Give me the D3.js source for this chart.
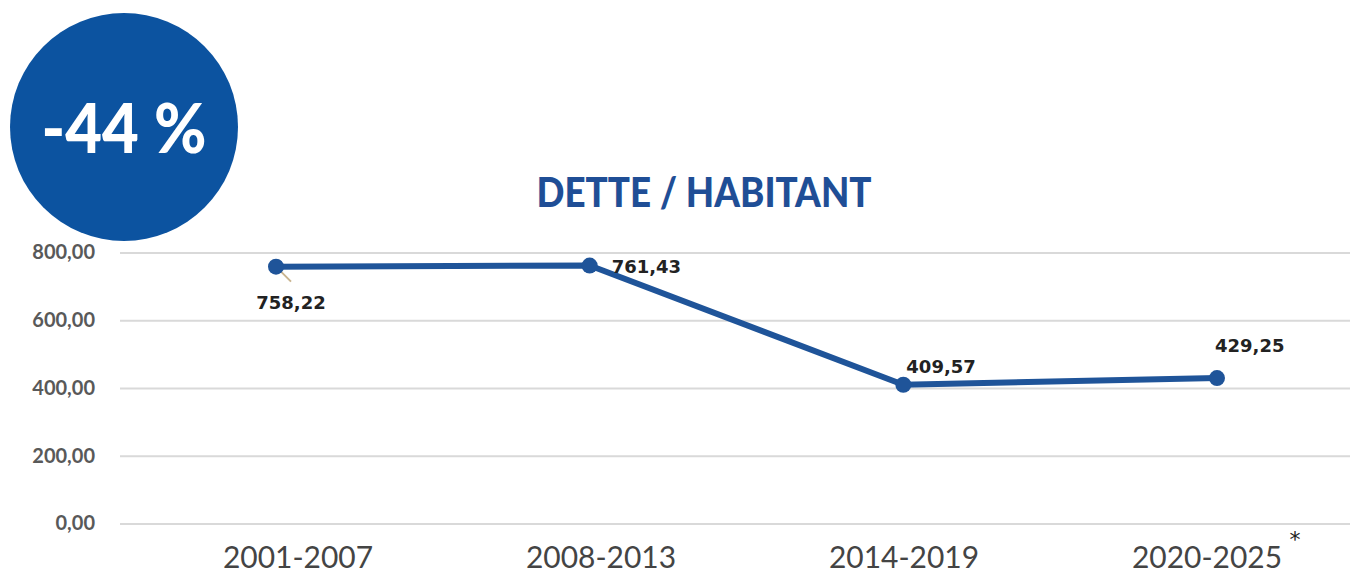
<!DOCTYPE html>
<html>
<head>
<meta charset="utf-8">
<script src="https://cdn.jsdelivr.net/npm/d3@7"></script>
<style>
  body { margin: 0; background: #fff; }
  svg { display: block; }
</style>
</head>
<body>
<script>
//chart data
var periods = ["2001-2007", "2008-2013", "2014-2019", "2020-2025"];
var dettes = [758.22, 761.43, 409.57, 429.25];
var yTicks = [0, 200, 400, 600, 800];
var title = "DETTE / HABITANT";
var badge = "-44 %";

//size of the page
var width = 1354, height = 576;
var blue = "#1f5499";

//french number format
var fr = d3.formatLocale({decimal: ",", thousands: " ", grouping: [3], currency: ["", " €"]});
var fmt = fr.format(".2f");

//scales
var x = d3.scalePoint().domain(periods).range([276, 1217]);
var xLab = d3.scalePoint().domain(periods).range([298, 1207]);
var y = d3.scaleLinear().domain([0, 800]).range([523.5, 252.5]);

var svg = d3.select("body").append("svg")
    .attr("width", width)
    .attr("height", height);

//gridlines + y labels
svg.append("g")
    .attr("transform", "translate(1350,0)")
    .call(d3.axisLeft(y).tickValues(yTicks).tickSize(1230).tickPadding(25).tickFormat(fmt))
    .call(g => g.select(".domain").remove())
    .call(g => g.selectAll("line").attr("stroke", "#d9d9d9").attr("stroke-width", 2))
    .call(g => g.selectAll("text")
        .attr("fill", "#595959")
        .style("font", "bold 20px Lato, sans-serif"));

//x labels
svg.append("g")
    .selectAll("text")
    .data(periods)
    .enter().append("text")
    .attr("x", d => xLab(d))
    .attr("y", 568)
    .attr("text-anchor", "middle")
    .attr("fill", "#444")
    .attr("textLength", 150)
    .attr("lengthAdjust", "spacingAndGlyphs")
    .style("font", "30px Lato, sans-serif")
    .text(d => d);

//asterisk on the last period
svg.append("text")
    .attr("x", xLab(periods[3]) + 88)
    .attr("y", 547)
    .attr("text-anchor", "middle")
    .attr("fill", "#222")
    .style("font", "22px 'DejaVu Sans', sans-serif")
    .text("*");

//title
svg.append("text")
    .attr("x", 704)
    .attr("y", 207)
    .attr("text-anchor", "middle")
    .attr("fill", "#1f4e96")
    .attr("textLength", 335)
    .attr("lengthAdjust", "spacingAndGlyphs")
    .style("font", "900 41px Lato, sans-serif")
    .text(title);

//line
var line = d3.line()
    .x((d, i) => x(periods[i]))
    .y(d => y(d));

svg.append("path")
    .datum(dettes)
    .attr("d", line)
    .attr("fill", "none")
    .attr("stroke", blue)
    .attr("stroke-width", 6)
    .attr("stroke-linejoin", "round");

//small leader line for first label
svg.append("line")
    .attr("x1", x(periods[0]) + 5)
    .attr("y1", y(dettes[0]) + 5)
    .attr("x2", x(periods[0]) + 15)
    .attr("y2", y(dettes[0]) + 15)
    .attr("stroke", "#c9b48f")
    .attr("stroke-width", 2);

//points
svg.selectAll("circle.pt")
    .data(dettes)
    .enter().append("circle")
    .attr("class", "pt")
    .attr("cx", (d, i) => x(periods[i]))
    .attr("cy", d => y(d))
    .attr("r", 8)
    .attr("fill", blue);

//value labels
svg.selectAll("text.val")
    .data(dettes)
    .enter().append("text")
    .attr("class", "val")
    .attr("x", (d, i) => x(periods[i]) + label_offset(i)[0])
    .attr("y", d => y(d))
    .attr("dy", (d, i) => label_offset(i)[1])
    .attr("text-anchor", (d, i) => i === 0 ? "middle" : "start")
    .attr("fill", "#222")
    .style("font", "bold 18px 'DejaVu Sans', sans-serif")
    .text(d => fmt(d));

//badge circle
svg.append("circle")
    .attr("cx", 124)
    .attr("cy", 127)
    .attr("r", 114)
    .attr("fill", "#0c53a0");

svg.append("text")
    .attr("x", 124)
    .attr("y", 153)
    .attr("text-anchor", "middle")
    .attr("fill", "#fff")
    .attr("textLength", 165)
    .attr("lengthAdjust", "spacingAndGlyphs")
    .style("font", "900 68px Lato, sans-serif")
    .text(badge);

//where each value label sits relative to its point
function label_offset(i) {
    if (i === 0) {
        return [15, 42];
    }
    else if (i === 1) {
        return [22, 7];
    }
    else if (i === 2) {
        return [3, -12];
    }
    else {
        return [-2, -26];
    }
}
</script>
</body>
</html>
